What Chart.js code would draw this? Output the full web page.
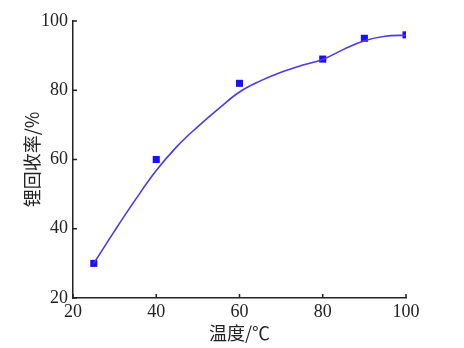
<!DOCTYPE html>
<html><head><meta charset="utf-8">
<script src="https://cdn.jsdelivr.net/npm/chart.js@4/dist/chart.umd.min.js"></script>
<style>html,body{margin:0;padding:0;background:#fff}#wrap{width:464px;height:348px}</style>
</head><body><div id="wrap"><canvas id="c" width="464" height="348"></canvas></div>
<script>
const tempMeasured = [25, 40, 60, 80, 90, 100];
const yieldMeasured = [30, 60, 82, 89, 95, 96];
const tempFit = [25, 30, 35, 40, 45, 50, 55, 60, 65, 70, 75, 80, 85, 90, 95, 100];
const yieldFit = [30, 39.4, 48.4, 56.8, 63.8, 69.5, 74.7, 79.5, 82.7, 85.2, 87.2, 88.9, 91.8, 94.3, 95.6, 95.9];
const xTicks = [20, 40, 60, 80, 100];
const yTicks = [20, 40, 60, 80, 100];
const xTitle = '温度/℃';
const yTitle = '锂回收率/%';

const tickFont = {family: '"Liberation Serif", "Times New Roman", serif', size: 18};
const titleFont = {family: '"Noto Sans CJK SC", sans-serif', size: 18};

const inwardTicks = {
  id: 'inwardTicks',
  afterDraw(chart) {
    const {ctx, scales: {x, y}} = chart;
    ctx.save();
    ctx.strokeStyle = '#222';
    ctx.lineWidth = 1.5;
    ctx.beginPath();
    xTicks.forEach(v => { const px = x.getPixelForValue(v); ctx.moveTo(px, y.bottom); ctx.lineTo(px, y.bottom - 4); });
    yTicks.forEach(v => { const py = y.getPixelForValue(v); ctx.moveTo(x.left, py); ctx.lineTo(x.left + 4, py); });
    ctx.stroke();
    ctx.restore();
  }
};

new Chart(document.getElementById('c'), {
  type: 'scatter',
  data: {
    datasets: [
      {
        type: 'line',
        data: tempFit.map((t, i) => ({x: t, y: yieldFit[i]})),
        borderColor: '#4b3ae6',
        borderWidth: 1.6,
        pointRadius: 0,
        tension: 0.4,
        fill: false
      },
      {
        data: tempMeasured.map((t, i) => ({x: t, y: yieldMeasured[i]})),
        pointStyle: 'rect',
        pointRadius: 5,
        backgroundColor: '#1a0ff5',
        borderColor: '#1a0ff5',
        borderWidth: 0
      }
    ]
  },
  options: {
    responsive: false,
    animation: false,
    events: [],
    layout: {padding: {left: 0, top: 21, right: 58, bottom: 0}},
    plugins: {legend: {display: false}, tooltip: {enabled: false}},
    scales: {
      x: {
        type: 'linear', min: 20, max: 100,
        afterBuildTicks: s => { s.ticks = xTicks.map(v => ({value: v})); },
        afterFit: s => { s.height = 50; },
        grid: {display: false, drawTicks: false},
        border: {display: true, color: '#222', width: 1.5},
        ticks: {color: '#222', font: tickFont, padding: 3, maxRotation: 0},
        title: {display: true, text: xTitle, color: '#222', font: titleFont, padding: {top: 0, bottom: 4}}
      },
      y: {
        type: 'linear', min: 20, max: 100,
        afterBuildTicks: s => { s.ticks = yTicks.map(v => ({value: v})); },
        afterFit: s => { s.width = 73; },
        grid: {display: false, drawTicks: false},
        border: {display: true, color: '#222', width: 1.5},
        ticks: {color: '#222', font: tickFont, padding: 5},
        title: {display: true, text: yTitle, color: '#222', font: titleFont, padding: {top: 21, bottom: 0}}
      }
    }
  },
  plugins: [inwardTicks]
});
</script></body></html>
